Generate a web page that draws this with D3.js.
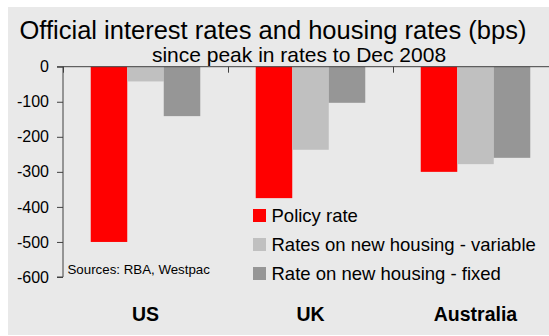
<!DOCTYPE html>
<html>
<head>
<meta charset="utf-8">
<script src="https://cdn.jsdelivr.net/npm/d3@7"></script>
<style>
  html, body { margin: 0; padding: 0; background: #ffffff; }
  svg { display: block; font-family: "Liberation Sans", Arial, sans-serif; }
</style>
</head>
<body>
<svg id="chart" width="549" height="336"></svg>
<script>
// Change in rates (basis points) from the peak to December 2008
const categories = ["US", "UK", "Australia"];
const seriesNames = ["Policy rate", "Rates on new housing - variable", "Rate on new housing - fixed"];
const policyRate = [-500, -375, -300];
const variableRate = [-42, -237, -278];
const fixedRate = [-141, -103, -260];
const yTicks = [0, -100, -200, -300, -400, -500, -600];
const seriesColors = ["#ff0000", "#c0c0c0", "#969696"];

const seriesValues = [policyRate, variableRate, fixedRate];

const svg = d3.select("#chart");

// panel background
svg.append("rect")
  .attr("x", 8).attr("y", 7)
  .attr("width", 541).attr("height", 328)
  .attr("fill", "#e9e9e9");

// titles
svg.append("text")
  .attr("x", 273).attr("y", 38.5)
  .attr("text-anchor", "middle")
  .attr("font-size", 25.5)
  .attr("fill", "#000")
  .text("Official interest rates and housing rates (bps)");

svg.append("text")
  .attr("x", 299).attr("y", 61.5)
  .attr("text-anchor", "middle")
  .attr("font-size", 21)
  .attr("fill", "#000")
  .text("since peak in rates to Dec 2008");

// scales
const x0 = d3.scaleBand().domain(categories).range([63, 558]).paddingInner(0).paddingOuter(0);
const x1 = d3.scaleBand().domain(seriesNames).range([0, x0.bandwidth()]).paddingInner(0).paddingOuter(0.76);
const y = d3.scaleLinear().domain([-600, 0]).range([277, 66.7]);

const plot = svg.append("g");

// bars
categories.forEach((cat, ci) => {
  seriesNames.forEach((s, si) => {
    const v = seriesValues[si][ci];
    plot.append("rect")
      .attr("x", x0(cat) + x1(s))
      .attr("y", y(0))
      .attr("width", x1.bandwidth())
      .attr("height", y(v) - y(0))
      .attr("fill", seriesColors[si]);
  });
});

// y axis (plain hyphen for negative labels)
const yAxis = d3.axisLeft(y)
  .tickValues(yTicks)
  .tickSize(6)
  .tickPadding(8)
  .tickFormat(d => String(d));

const yg = svg.append("g")
  .attr("transform", "translate(63,0)")
  .call(yAxis);
yg.select(".domain").attr("stroke", "#404040").attr("d", `M-6,${y(-600)}H0V${y(0)}H-6`);
yg.selectAll(".tick line").attr("stroke", "#404040");
yg.selectAll(".tick text")
  .attr("font-family", "Liberation Sans, Arial, sans-serif")
  .attr("font-size", 16)
  .attr("fill", "#000");

// zero line with category separators
const xg = svg.append("g");
xg.append("line")
  .attr("x1", 63).attr("x2", 558)
  .attr("y1", y(0)).attr("y2", y(0))
  .attr("stroke", "#404040");
categories.forEach(cat => {
  const bx = x0(cat);
  xg.append("line")
    .attr("x1", bx + 0.5).attr("x2", bx + 0.5)
    .attr("y1", y(0)).attr("y2", y(0) + 6)
    .attr("stroke", "#404040");
});

// category labels
svg.append("g").selectAll("text")
  .data(categories)
  .join("text")
  .attr("x", d => x0(d) + x0.bandwidth() / 2)
  .attr("y", 321)
  .attr("text-anchor", "middle")
  .attr("font-size", 19.5)
  .attr("font-weight", "bold")
  .attr("fill", "#000")
  .text(d => d);

// source note
svg.append("text")
  .attr("x", 67.5).attr("y", 274)
  .attr("font-size", 13.3)
  .attr("fill", "#000")
  .text("Sources: RBA, Westpac");

// legend
const legend = svg.append("g").attr("transform", "translate(253,209)");
seriesNames.forEach((s, i) => {
  const g = legend.append("g").attr("transform", `translate(0,${i * 29})`);
  g.append("rect")
    .attr("x", 0).attr("y", 0)
    .attr("width", 13).attr("height", 13)
    .attr("fill", seriesColors[i]);
  g.append("text")
    .attr("x", 18.5).attr("y", 12.8)
    .attr("font-size", 18.5)
    .attr("fill", "#000")
    .text(s);
});
</script>
</body>
</html>
